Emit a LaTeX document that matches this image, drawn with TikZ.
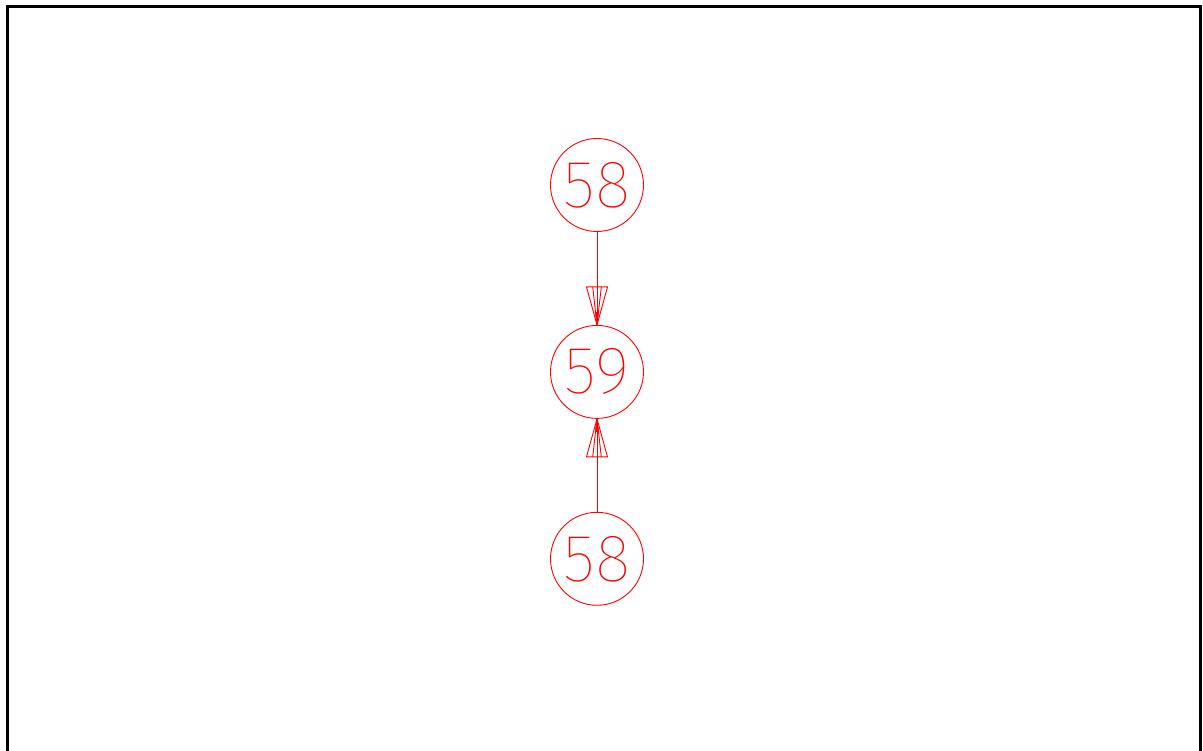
\documentclass[tikz,border=0pt]{standalone}
\usepackage{fontspec}
\IfFontExistsTF{Fira Sans Hair}{\newfontfamily\numfont{Fira Sans Hair}}{%
 \IfFontExistsTF{Fira Sans Thin}{\newfontfamily\numfont{Fira Sans Thin}}{%
  \IfFontExistsTF{Lato Hairline}{\newfontfamily\numfont{Lato Hairline}}{%
   \IfFontExistsTF{Poppins Thin}{\newfontfamily\numfont{Poppins Thin}}{%
    \IfFontExistsTF{Fira Sans Light}{\newfontfamily\numfont{Fira Sans Light}}{%
     \newcommand\numfont{\sffamily}}}}}}
\usetikzlibrary{positioning,calc,arrows.meta}

\tikzset{
  num/.style={circle,draw=red,line width=0.9pt,minimum size=93pt,inner sep=0pt,
    text=red,font=\numfont\fontsize{67}{67}\selectfont},
  link/.style={draw=red,line width=0.9pt,line cap=round,line join=round},
}

% open fan head: tip point, base midpoint
\newcommand\fanhead[2]{%
  \draw[link] ($#2+(-10.5,0)$) -- #1 -- ($#2+(10.5,0)$) -- cycle;
  \draw[link] ($#2+(-4.3,0)$) -- #1 -- ($#2+(4.3,0)$);
  \fill[red] #1 -- ($#1!0.34!#2+(-2,0)$) -- ($#1!0.34!#2+(2,0)$) -- cycle;
}

\begin{document}
\begin{tikzpicture}[x=1pt,y=1pt,node distance=93pt]
  \useasboundingbox (0,0) rectangle (1203,-751);
  \draw[line width=3pt] (7.5,-751) -- (7.5,-6.5) -- (1200.5,-6.5) -- (1200.5,-751);

  \node[num] (upper) at (597,-185) {58};
  \node[num,below=of upper] (mid) {59};
  \node[num,below=of mid] (lower) {58};

  \draw[link] (upper.south) -- (mid.north);
  \fanhead{(mid.north)}{($(mid.north)+(0,38)$)}
  \draw[link] (lower.north) -- (mid.south);
  \fanhead{(mid.south)}{($(mid.south)+(0,-38)$)}
\end{tikzpicture}
\end{document}
